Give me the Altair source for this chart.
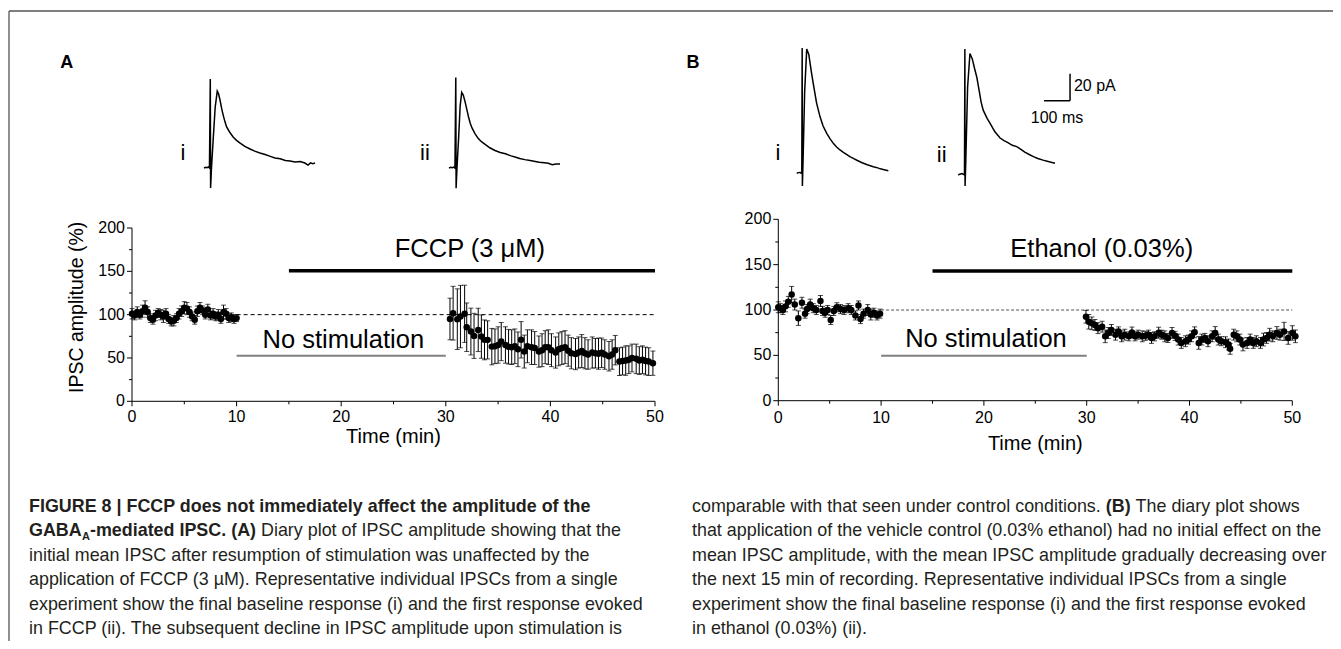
import altair as alt
import pandas as pd

# ---------------- data ----------------
# Panel A diary plot: baseline (0-10 min) and after stimulation resumed (FCCP)
A_base_t = [0, 0.25, 0.5, 0.75, 1.0, 1.25, 1.5, 1.75, 2.0, 2.25, 2.5, 2.75, 3.0, 3.25, 3.5, 3.75, 4.0, 4.25, 4.5, 4.75,
            5.0, 5.25, 5.5, 5.75, 6.0, 6.25, 6.5, 6.75, 7.0, 7.25, 7.5, 7.75, 8.0, 8.25, 8.5, 8.75, 9.0, 9.25, 9.5, 9.75, 10.0]
A_base_v = [101, 99, 103, 100, 104, 108, 103, 96, 94, 99, 102, 100, 98, 101, 95, 92, 93, 96, 101, 104,
            108, 107, 103, 98, 94, 104, 108, 105, 100, 106, 99, 101, 98, 100, 95, 103, 101, 96, 97, 95, 96]
A_base_e = [6, 5, 6, 5, 7, 8, 6, 5, 5, 6, 5, 6, 7, 6, 5, 5, 6, 5, 6, 6,
            7, 7, 6, 5, 5, 6, 6, 5, 5, 6, 5, 6, 5, 6, 5, 8, 6, 5, 5, 5, 4]
A_post_t = [30.4, 30.7, 31.1, 31.4, 31.8, 32.0, 32.4, 32.7, 33.1, 33.4, 33.7, 34.0, 34.4, 34.7, 35.0, 35.3, 35.7, 36.0,
            36.3, 36.6, 36.9, 37.2, 37.5, 37.8, 38.2, 38.5, 38.9, 39.2, 39.5, 39.8, 40.1, 40.5, 40.8, 41.1, 41.4, 41.7,
            42.0, 42.4, 42.7, 43.0, 43.3, 43.6, 44.0, 44.3, 44.6, 44.9, 45.2, 45.6, 45.9, 46.2, 46.6, 46.9, 47.2, 47.5,
            47.8, 48.2, 48.5, 48.8, 49.1, 49.4, 49.8]
A_post_v = [95, 101.7, 94.8, 97.8, 101, 85.5, 80.5, 75.5, 82.4, 74.7, 70.9, 70.9, 63.1, 63.5, 65, 68.9, 65, 63,
            62.5, 63.5, 60, 71, 57.4, 63.5, 62.5, 61.5, 57.4, 59, 62.5, 62.5, 59, 56.3, 60, 61.5, 62.5, 58.4,
            55.5, 54.5, 56.3, 58, 55.5, 54, 56.3, 55.5, 55, 56, 54, 52, 54, 59, 45.8, 46.5, 47, 48,
            50, 49, 47, 48, 46.5, 45.8, 44]
A_post_e = [24, 31, 35, 36, 33, 28, 27, 26, 25, 25, 23, 22, 21, 20, 21, 22, 21, 20,
            20, 20, 20, 21, 19, 19, 20, 19, 18, 19, 19, 20, 19, 18, 19, 19, 19, 18,
            18, 18, 18, 19, 18, 17, 18, 17, 18, 17, 17, 17, 17, 17, 16, 16, 17, 16,
            16, 17, 16, 16, 16, 16, 14]

# Panel B diary plot (ethanol vehicle)
B_base_t = [0.0, 0.2, 0.45, 0.7, 0.97, 1.3, 1.6, 1.95, 2.3, 2.6, 2.8, 3.1, 3.4, 3.7, 4.1, 4.3, 4.55,
            4.8, 5.1, 5.4, 5.7, 6.05, 6.4, 6.8, 7.1, 7.5, 7.8, 8.0, 8.3, 8.7, 9.0, 9.3, 9.6, 9.9]
B_base_v = [103, 102, 100, 104, 109, 117, 106, 91, 108, 96, 101, 106, 102, 100, 110, 99, 97,
            100, 89, 99, 103, 101, 100, 102, 100, 94, 105, 90, 96, 100, 95, 97, 94, 96]
B_base_e = [6, 5, 5, 6, 6, 9, 6, 8, 6, 5, 5, 6, 5, 5, 6, 5, 5,
            5, 5, 5, 5, 5, 5, 5, 5, 5, 5, 5, 5, 6, 6, 5, 5, 5]
B_post_t = [29.93, 30.2, 30.5, 30.8, 31.1, 31.5, 31.8, 32.1, 32.4, 32.8, 33.1, 33.4, 33.7, 34.1, 34.4, 34.7,
            35.0, 35.4, 35.7, 36.0, 36.3, 36.6, 37.0, 37.3, 37.6, 37.9, 38.3, 38.6, 38.9, 39.2, 39.6, 39.9,
            40.2, 40.5, 40.9, 41.2, 41.5, 41.8, 42.2, 42.5, 42.8, 43.1, 43.5, 43.8, 43.95, 44.3, 44.6, 44.9,
            45.2, 45.6, 45.9, 46.2, 46.5, 46.9, 47.2, 47.5, 47.8, 48.1, 48.5, 48.8, 49.2, 49.6, 50.0, 50.3]
B_post_v = [92.6, 87, 85.3, 83.5, 80, 81.6, 71, 74.7, 78, 72.8, 76.4, 71, 72.8, 71, 75.2, 71,
            72.8, 71, 71.5, 72.8, 69.2, 71, 75, 72.8, 71, 69.2, 74.7, 71.5, 67.4, 63.7, 65.6, 67.4,
            71, 75.4, 63.7, 67.4, 69.2, 65.6, 71, 74.7, 67.4, 65.6, 64.5, 62, 57.2, 72.8, 71, 67.4,
            62, 63.7, 67.4, 63.7, 65.6, 63.7, 67.4, 69.2, 72.8, 71, 74.7, 72.8, 76.4, 69.2, 74.7, 71]
B_post_e = [7, 8, 7, 6, 6, 6, 7, 6, 6, 6, 5, 6, 6, 5, 6, 5,
            5, 6, 5, 5, 6, 5, 6, 5, 6, 5, 6, 5, 6, 6, 6, 5,
            6, 6, 7, 6, 5, 6, 6, 7, 6, 5, 6, 6, 6, 6, 6, 6,
            7, 6, 6, 6, 6, 6, 7, 6, 7, 6, 7, 6, 10, 7, 8, 7]

# Representative IPSC traces (time in ms from stimulus, current in pA above baseline)
Ai_ms = [-25, -18, -13, -8, -4, -0.8, 0.4, 3.8, 10, 18, 26, 31, 37, 43, 49, 56, 62, 74, 87, 100,
         114, 132, 152, 170, 190, 210, 230, 248, 268, 288, 306, 325, 345, 363, 375, 385, 393, 402]
Ai_pA = [0, 0.6, 0.3, 0.8, 0, 65.9, -14.8, 0, 20, 45, 57, 55, 50, 44, 39, 34, 30.4, 26.5, 23, 20.5,
         18.5, 16, 14.1, 12.5, 11.1, 10, 8.6, 7.4, 6.8, 5.6, 5.2, 4.4, 4.8, 3.7, 2.2, 3.8, 3.2, 3.7]
Aii_ms = [-27, -20, -14, -9, -4, -0.8, 0.4, 3.8, 10, 16, 22, 28, 35, 42, 48, 55, 62, 73, 85, 98,
          112, 130, 150, 170, 190, 212, 230, 245, 265, 285, 300, 320, 340, 355, 370, 385, 400]
Aii_pA = [0, 0.5, 0.2, 0.7, 0, 67, -15, 0, 22, 46, 56, 54, 49, 43, 38, 33, 29.5, 25.5, 22, 19.5,
          17.5, 15, 13, 11.5, 10.5, 9, 8, 7, 6.2, 5.5, 5, 4.2, 3.8, 3.5, 2.5, 3, 3]
Bi_ms = [-21.5, -15, -9, -5, -2, -0.5, 0.3, 3, 9, 17, 25, 35, 42, 55, 68, 80, 94, 107, 120, 132,
         145, 158, 170, 183, 196, 212, 230, 250, 273, 290, 300, 315, 331]
Bi_pA = [0, 0.5, 0.6, 0.2, 0, 92.8, -9.4, 10, 60, 92, 88, 75, 66.7, 52, 42, 35, 29.6, 25.5, 22, 19.5,
         17.3, 15.5, 14, 12.4, 11.1, 9.5, 7.8, 6.3, 4.9, 4, 3.3, 2.6, 1.9]
Bii_ms = [-26, -20, -11.5, -6, -2, -0.5, 0.3, 3, 10, 19, 28, 38, 45, 55, 62, 70, 85, 96, 115, 135,
          150, 165, 182, 199, 215, 230, 247, 263, 280, 300, 320, 346]
Bii_pA = [0, 0.6, 1.1, 0.4, 0, 93.3, -8.1, 10, 65, 90, 86, 78, 72.8, 62, 54, 48, 42, 38.5, 32, 27.4,
          25.5, 24, 22, 21, 19, 17, 15.2, 13.6, 12.2, 11, 10, 8.7]

# scale bar (20 pA, 100 ms)
BAR_MS = [304, 404]
BAR_PA = [55, 75]

X_TICKS = [0, 10, 20, 30, 40, 50]
X_MINOR = [5, 15, 25, 35, 45]
Y_TICKS = [0, 50, 100, 150, 200]
Y_MINOR = [25, 75, 125, 175]

CAPTION_LEFT = [
    "initial mean IPSC after resumption of stimulation was unaffected by the",
    "application of FCCP (3 µM). Representative individual IPSCs from a single",
    "experiment show the final baseline response (i) and the first response evoked",
    "in FCCP (ii). The subsequent decline in IPSC amplitude upon stimulation is",
]
CAPTION_RIGHT = [
    "that application of the vehicle control (0.03% ethanol) had no initial effect on the",
    "mean IPSC amplitude, with the mean IPSC amplitude gradually decreasing over",
    "the next 15 min of recording. Representative individual IPSCs from a single",
    "experiment show the final baseline response (i) and the first response evoked",
    "in ethanol (0.03%) (ii).",
]

# ---------------- layout helpers ----------------
W, H = 1325, 633
OX, OY = 8, 8
FONT = "Liberation Sans, Arial, Helvetica, sans-serif"
CAP_FONT = "Liberation Sans, Arial, Helvetica, sans-serif"
CAP_SIZE = 17.9
CAP_COLOR = "#231f20"


def xdom(p0, p1, v0, v1):
    p0 -= OX
    p1 -= OX
    k = (p1 - p0) / (v1 - v0)
    d0 = v0 - p0 / k
    return [d0, d0 + W / k], k


def ydom(q0, q1, v0, v1):
    q0 -= OY
    q1 -= OY
    k = (q0 - q1) / (v1 - v0)
    d0 = v0 - (H - q0) / k
    return [d0, d0 + H / k], k


def enc(field, dom, ch):
    sc = alt.Scale(domain=dom, nice=False, zero=False)
    if ch == "x":
        return alt.X(field, type="quantitative", scale=sc, axis=None)
    return alt.Y(field, type="quantitative", scale=sc, axis=None)


def diary(bt, bv, be, pt, pv, pe, xg, yg, cfg):
    xd, kx = xdom(*xg, 0, 50)
    yd, ky = ydom(*yg, 0, 200)
    X = lambda f: enc(f, xd, "x")
    Y = lambda f: enc(f, yd, "y")
    df = pd.DataFrame({"t": bt + pt, "v": bv + pv, "e": be + pe})
    df["lo"] = df["v"] - df["e"]
    df["hi"] = df["v"] + df["e"]
    layers = []
    # reference lines
    dash = pd.DataFrame({"t": [10], "t2": [50], "v": [100]})
    layers.append(alt.Chart(dash).mark_rule(color=cfg["dash_color"], strokeWidth=1, strokeDash=cfg["dash"]).encode(
        x=X("t"), x2=alt.X2("t2"), y=Y("v")))
    nos = pd.DataFrame({"t": [10], "t2": [30], "v": [cfg["nostim_y"]]})
    layers.append(alt.Chart(nos).mark_rule(color="#808080", strokeWidth=2).encode(
        x=X("t"), x2=alt.X2("t2"), y=Y("v")))
    drug = pd.DataFrame({"t": [15], "t2": [50], "v": [cfg["drug_y"]]})
    layers.append(alt.Chart(drug).mark_rule(color="black", strokeWidth=3.5).encode(
        x=X("t"), x2=alt.X2("t2"), y=Y("v")))
    # annotations
    ann = pd.DataFrame({"t": [cfg["drug_tx"], cfg["nostim_tx"]],
                        "v": [cfg["drug_ty"], cfg["nostim_ty"]],
                        "label": [cfg["drug_label"], "No stimulation"]})
    layers.append(alt.Chart(ann).mark_text(font=FONT, fontSize=25.5, color="black", align="center",
                                           baseline="alphabetic").encode(x=X("t"), y=Y("v"), text="label:N"))
    # data
    layers.append(alt.Chart(df).mark_errorbar(ticks=True, size=5, thickness=1, color="black").encode(
        x=X("t"), y=Y("lo"), y2=alt.Y2("hi")))
    layers.append(alt.Chart(df).mark_circle(size=42, color="black", opacity=1).encode(x=X("t"), y=Y("v")))
    # axes drawn through the same scales
    dom_x = pd.DataFrame({"t": [0], "t2": [50], "v": [0]})
    layers.append(alt.Chart(dom_x).mark_rule(color="black", strokeWidth=1).encode(
        x=X("t"), x2=alt.X2("t2"), y=Y("v")))
    dom_y = pd.DataFrame({"t": [0], "v": [0], "v2": [200]})
    layers.append(alt.Chart(dom_y).mark_rule(color="black", strokeWidth=1).encode(
        x=X("t"), y=Y("v"), y2=alt.Y2("v2")))
    xt = pd.DataFrame({"t": X_TICKS + X_MINOR, "v": [0] * 11,
                       "v2": [-5 / ky] * 6 + [-3 / ky] * 5})
    layers.append(alt.Chart(xt).mark_rule(color="black", strokeWidth=1).encode(
        x=X("t"), y=Y("v"), y2=alt.Y2("v2")))
    yt = pd.DataFrame({"v": Y_TICKS + Y_MINOR, "t": [0] * 9,
                       "t2": [-5 / kx] * 5 + [-3 / kx] * 4})
    layers.append(alt.Chart(yt).mark_rule(color="black", strokeWidth=1).encode(
        x=X("t"), x2=alt.X2("t2"), y=Y("v")))
    xl = pd.DataFrame({"t": X_TICKS, "v": [0] * 6, "label": [str(v) for v in X_TICKS]})
    layers.append(alt.Chart(xl).mark_text(font=FONT, fontSize=16, color="black", baseline="middle",
                                          dy=cfg["xlab_dy"]).encode(x=X("t"), y=Y("v"), text="label:N"))
    yl = pd.DataFrame({"t": [0] * 5, "v": Y_TICKS, "label": [str(v) for v in Y_TICKS]})
    layers.append(alt.Chart(yl).mark_text(font=FONT, fontSize=16, color="black", baseline="middle", align="right",
                                          dx=-7).encode(x=X("t"), y=Y("v"), text="label:N"))
    xtitle = pd.DataFrame({"t": [25], "v": [0], "label": ["Time (min)"]})
    layers.append(alt.Chart(xtitle).mark_text(font=FONT, fontSize=20, color="black", baseline="middle",
                                              dy=cfg["xtitle_dy"]).encode(x=X("t"), y=Y("v"), text="label:N"))
    if cfg.get("ytitle"):
        yti = pd.DataFrame({"t": [cfg["ytitle_t"]], "v": [cfg["ytitle_v"]], "label": [cfg["ytitle"]]})
        layers.append(alt.Chart(yti).mark_text(font=FONT, fontSize=19.5, color="black", baseline="middle",
                                               align="center", angle=270).encode(
            x=X("t"), y=Y("v"), text="label:N"))
    return alt.layer(*layers)


def trace(ms, pa, stim_px, base_px, label, label_ms, label_pa, extra=None):
    xd, _ = xdom(stim_px, stim_px + 26, 0, 100)
    yd, _ = ydom(base_px, base_px - 27, 0, 20)
    X = lambda f: enc(f, xd, "x")
    Y = lambda f: enc(f, yd, "y")
    df = pd.DataFrame({"ms": ms, "pA": pa, "k": list(range(len(ms)))})
    layers = [alt.Chart(df).mark_line(color="black", strokeWidth=1.5).encode(x=X("ms"), y=Y("pA"), order="k:Q")]
    lab = pd.DataFrame({"ms": [label_ms], "pA": [label_pa], "label": [label]})
    layers.append(alt.Chart(lab).mark_text(font=FONT, fontSize=22, color="black", baseline="middle").encode(
        x=X("ms"), y=Y("pA"), text="label:N"))
    if extra:
        vb = pd.DataFrame({"ms": [BAR_MS[1]], "pA": [BAR_PA[0]], "pA2": [BAR_PA[1]]})
        layers.append(alt.Chart(vb).mark_rule(color="black", strokeWidth=1.5).encode(
            x=X("ms"), y=Y("pA"), y2=alt.Y2("pA2")))
        hb = pd.DataFrame({"ms": [BAR_MS[0]], "ms2": [BAR_MS[1]], "pA": [BAR_PA[0]]})
        layers.append(alt.Chart(hb).mark_rule(color="black", strokeWidth=1.5).encode(
            x=X("ms"), x2=alt.X2("ms2"), y=Y("pA")))
        bl = pd.DataFrame({"ms": [BAR_MS[1] + 15, (BAR_MS[0] + BAR_MS[1]) / 2],
                           "pA": [(BAR_PA[0] + BAR_PA[1]) / 2 + 1, BAR_PA[0] - 13],
                           "label": ["20 pA", "100 ms"], "al": ["left", "center"]})
        layers.append(alt.Chart(bl[bl.al == "left"]).mark_text(font=FONT, fontSize=16, color="black",
                                                                align="left", baseline="middle").encode(
            x=X("ms"), y=Y("pA"), text="label:N"))
        layers.append(alt.Chart(bl[bl.al == "center"]).mark_text(font=FONT, fontSize=16, color="black",
                                                                  align="center", baseline="middle").encode(
            x=X("ms"), y=Y("pA"), text="label:N"))
    return alt.layer(*layers)


panelA = diary(A_base_t, A_base_v, A_base_e, A_post_t, A_post_v, A_post_e,
               (132, 655), (401.3, 228),
               dict(dash_color="black", dash=[4, 3], nostim_y=52.7, drug_y=150.6,
                    drug_label="FCCP (3 μM)", drug_tx=32.3, drug_ty=166.8, nostim_tx=20.2, nostim_ty=62,
                    xlab_dy=16, xtitle_dy=36, ytitle="IPSC amplitude (%)", ytitle_t=-5.29, ytitle_v=108.4))
panelB = diary(B_base_t, B_base_v, B_base_e, B_post_t, B_post_v, B_post_e,
               (778.3, 1292.3), (400.7, 219.3),
               dict(dash_color="#555555", dash=[3, 2], nostim_y=49.6, drug_y=143,
                    drug_label="Ethanol (0.03%)", drug_tx=31.46, drug_ty=158.1, nostim_tx=20.2, nostim_ty=59.5,
                    xlab_dy=17, xtitle_dy=43))

trAi = trace(Ai_ms, Ai_pA, 210.5, 168, "i", -105.8, 11.1)
trAii = trace(Aii_ms, Aii_pA, 456, 168, "ii", -119.2, 11.1)
trBi = trace(Bi_ms, Bi_pA, 802.3, 173.3, "i", -93.5, 15)
trBii = trace(Bii_ms, Bii_pA, 965, 175, "ii", -89.6, 14.8, extra=True)

# ---------------- decorations: frame, panel letters, caption ----------------
P = lambda v, o: v - o
frame = pd.DataFrame({"px": [P(9, OX), P(9, OX)], "py": [P(11, OY), P(11, OY)],
                      "px2": [P(1333, OX), P(9, OX)], "py2": [P(11, OY), P(641, OY)]})
frame_ch = alt.Chart(frame).mark_rule(color="#555555", strokeWidth=1.3).encode(
    x=alt.X("px:Q", scale=None, axis=None), y=alt.Y("py:Q", scale=None, axis=None),
    x2="px2:Q", y2="py2:Q")

letters = pd.DataFrame({"px": [P(66.7, OX), P(693, OX)], "py": [P(63.3, OY), P(63.3, OY)], "text": ["A", "B"]})
letters_ch = alt.Chart(letters).mark_text(font=FONT, fontSize=18, fontWeight="bold", color="black",
                                          align="center", baseline="middle").encode(
    x=alt.X("px:Q", scale=None, axis=None), y=alt.Y("py:Q", scale=None, axis=None), text="text:N")

LINE0 = 506.5
STEP = 24.5
LX, RX = 29, 692
reg_rows, bold_rows = [], []
bold_rows.append((LX, LINE0, "FIGURE 8 | FCCP does not immediately affect the amplitude of the"))
bold_rows.append((LX, LINE0 + STEP, "GABA"))
bold_rows.append((90, LINE0 + STEP, "-mediated IPSC. (A)"))
reg_rows.append((261, LINE0 + STEP, "Diary plot of IPSC amplitude showing that the"))
for i, s in enumerate(CAPTION_LEFT):
    reg_rows.append((LX, LINE0 + STEP * (i + 2), s))
reg_rows.append((RX, LINE0, "comparable with that seen under control conditions."))
bold_rows.append((1105.8, LINE0, "(B)"))
reg_rows.append((1135.6, LINE0, "The diary plot shows"))
for i, s in enumerate(CAPTION_RIGHT):
    reg_rows.append((RX, LINE0 + STEP * (i + 1), s))


def cap_df(rows):
    return pd.DataFrame({"px": [P(r[0], OX) for r in rows], "py": [P(r[1], OY) for r in rows],
                         "text": [r[2] for r in rows]})


def cap_chart(rows, weight, size=CAP_SIZE):
    return alt.Chart(cap_df(rows)).mark_text(font=CAP_FONT, fontSize=size, fontWeight=weight, color=CAP_COLOR,
                                             align="left", baseline="middle").encode(
        x=alt.X("px:Q", scale=None, axis=None), y=alt.Y("py:Q", scale=None, axis=None), text="text:N")


cap_reg = cap_chart(reg_rows, "normal")
cap_bold = cap_chart(bold_rows, "bold")
cap_sub = cap_chart([(82, LINE0 + STEP + 6, "A")], "bold", 11)

chart = alt.layer(
    panelA, panelB, trAi, trAii, trBi, trBii, frame_ch, letters_ch, cap_reg, cap_bold, cap_sub
).resolve_scale(x="independent", y="independent").properties(
    width=W, height=H, padding=0, autosize=alt.AutoSizeParams(type="none")
).configure_view(stroke=None)

chart.save("out.html", embed_options={"renderer": "svg", "actions": False})
